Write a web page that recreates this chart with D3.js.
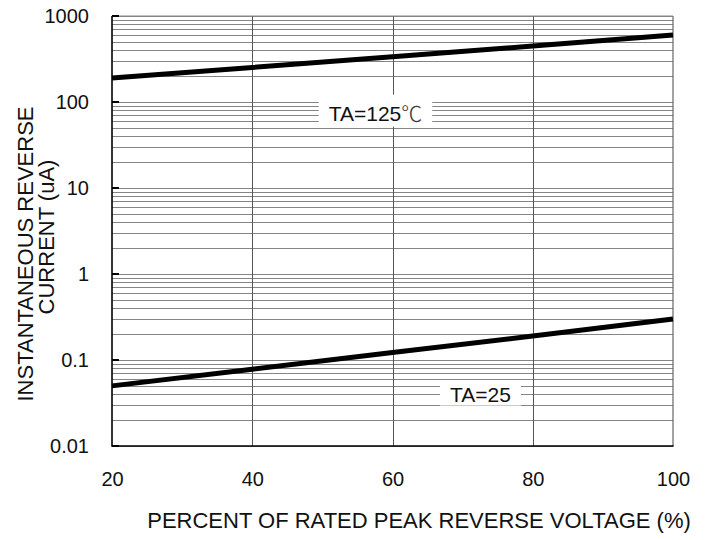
<!DOCTYPE html>
<html>
<head>
<meta charset="utf-8">
<script src="https://cdn.jsdelivr.net/npm/d3@7"></script>
<style>
	body { margin: 0; background: #fff; }
	svg { display: block; font-family: 'Liberation Sans', Arial, sans-serif; }
</style>
</head>
<body>
<div id="chart"></div>
<script>
// readings, percent of rated voltage vs current (uA)
let voltagePct = [20, 40, 60, 80, 100]
let currentHot = [190, 252, 336, 448, 600]
let currentCold = [0.05, 0.078, 0.122, 0.19, 0.3]

let xTicks = [20, 40, 60, 80, 100]
let yTicks = [0.01, 0.1, 1, 10, 100, 1000]
let yTickLabels = ['0.01', '0.1', '1', '10', '100', '1000']

let labels = [
	{ text: 'TA=125', unit: '\u2103', x: 50.9, y: 74 },
	{ text: 'TA=25', unit: '', x: 68.2, y: 0.04 }
]

let W = 707
let H = 540
let plotL = 112
let plotR = 673
let plotT = 16
let plotB = 446

let svg = d3
	.select('#chart')
	.append('svg')
	.attr('width', W)
	.attr('height', H)

let x = d3.scaleLinear().domain([20, 100]).range([plotL, plotR])
let y = d3.scaleLog().domain([0.01, 1000]).range([plotB, plotT])

// horizontal log grid (1..9 in every decade)
svg
	.append('g')
	.selectAll('line')
	.data(y.ticks())
	.join('line')
	.attr('x1', plotL)
	.attr('x2', plotR)
	.attr('y1', d => Math.round(y(d)) + 0.5)
	.attr('y2', d => Math.round(y(d)) + 0.5)
	.attr('stroke', '#858585')
	.attr('stroke-width', 1)

// white boxes behind the curve labels
let labelG = svg.append('g')
labels.forEach(l => {
	let t = labelG
		.append('text')
		.attr('x', x(l.x))
		.attr('y', y(l.y))
		.attr('dy', '0.35em')
		.attr('font-size', 21)
		.attr('fill', '#111')
		.text(l.text)
	if (l.unit) {
		t.append('tspan')
			.attr('font-family', "'Noto Sans CJK SC', sans-serif")
			.attr('font-weight', 300)
			.attr('fill', '#333')
			.text(l.unit)
	}
	let bb = t.node().getBBox()
	labelG
		.insert('rect', 'text')
		.attr('x', bb.x - 10)
		.attr('y', bb.y - 2)
		.attr('width', bb.width + 20)
		.attr('height', bb.height + 2)
		.attr('fill', '#fff')
})

// vertical grid
svg
	.append('g')
	.selectAll('line')
	.data(xTicks.slice(1, -1))
	.join('line')
	.attr('x1', d => Math.round(x(d)) + 0.5)
	.attr('x2', d => Math.round(x(d)) + 0.5)
	.attr('y1', plotT)
	.attr('y2', plotB)
	.attr('stroke', '#555')
	.attr('stroke-width', 1)

labelG.raise()

// frame: right and top grey, left and bottom black
svg.append('line').attr('x1', plotR).attr('x2', plotR).attr('y1', plotT).attr('y2', plotB)
	.attr('stroke', '#666').attr('stroke-width', 1.2)
svg.append('line').attr('x1', plotL).attr('x2', plotR).attr('y1', plotT).attr('y2', plotT)
	.attr('stroke', '#888').attr('stroke-width', 1)
svg.append('line').attr('x1', plotL).attr('x2', plotL).attr('y1', plotT).attr('y2', plotB + 0.8)
	.attr('stroke', '#000').attr('stroke-width', 1.6)
svg.append('line').attr('x1', plotL).attr('x2', plotR + 0.6).attr('y1', plotB).attr('y2', plotB)
	.attr('stroke', '#000').attr('stroke-width', 1.6)

// short inner ticks on the decades
svg
	.append('g')
	.selectAll('line')
	.data(yTicks)
	.join('line')
	.attr('x1', plotL)
	.attr('x2', plotL + 7)
	.attr('y1', d => y(d))
	.attr('y2', d => y(d))
	.attr('stroke', '#000')
	.attr('stroke-width', 2)

// curves
let line = d3
	.line()
	.x((d, i) => x(voltagePct[i]))
	.y(d => y(d))

;[currentHot, currentCold].forEach(s => {
	svg
		.append('path')
		.attr('d', line(s))
		.attr('fill', 'none')
		.attr('stroke', '#000')
		.attr('stroke-width', 5)
})

// axes for the tick labels
let yAxis = svg
	.append('g')
	.attr('transform', `translate(${plotL},0)`)
	.call(
		d3
			.axisLeft(y)
			.tickValues(yTicks)
			.tickFormat((d, i) => yTickLabels[i])
			.tickSize(0)
			.tickPadding(23)
	)
let xAxis = svg
	.append('g')
	.attr('transform', `translate(0,${plotB})`)
	.call(d3.axisBottom(x).tickValues(xTicks).tickSize(0).tickPadding(26))

;[yAxis, xAxis].forEach(a => {
	a.select('.domain').remove()
	a.selectAll('text')
		.attr('font-size', 20)
		.attr('font-family', "'Liberation Sans', Arial, sans-serif")
		.attr('fill', '#111')
})

// axis titles
svg
	.append('text')
	.attr('x', 419)
	.attr('y', 528)
	.attr('text-anchor', 'middle')
	.attr('font-size', 22)
	.attr('fill', '#111')
	.text('PERCENT OF RATED PEAK REVERSE VOLTAGE (%)')

svg
	.append('text')
	.attr('transform', 'translate(33,254) rotate(-90)')
	.attr('text-anchor', 'middle')
	.attr('font-size', 22)
	.attr('fill', '#111')
	.text('INSTANTANEOUS REVERSE')

svg
	.append('text')
	.attr('transform', 'translate(54,237) rotate(-90)')
	.attr('text-anchor', 'middle')
	.attr('font-size', 22)
	.attr('fill', '#111')
	.text('CURRENT (uA)')
</script>
</body>
</html>
